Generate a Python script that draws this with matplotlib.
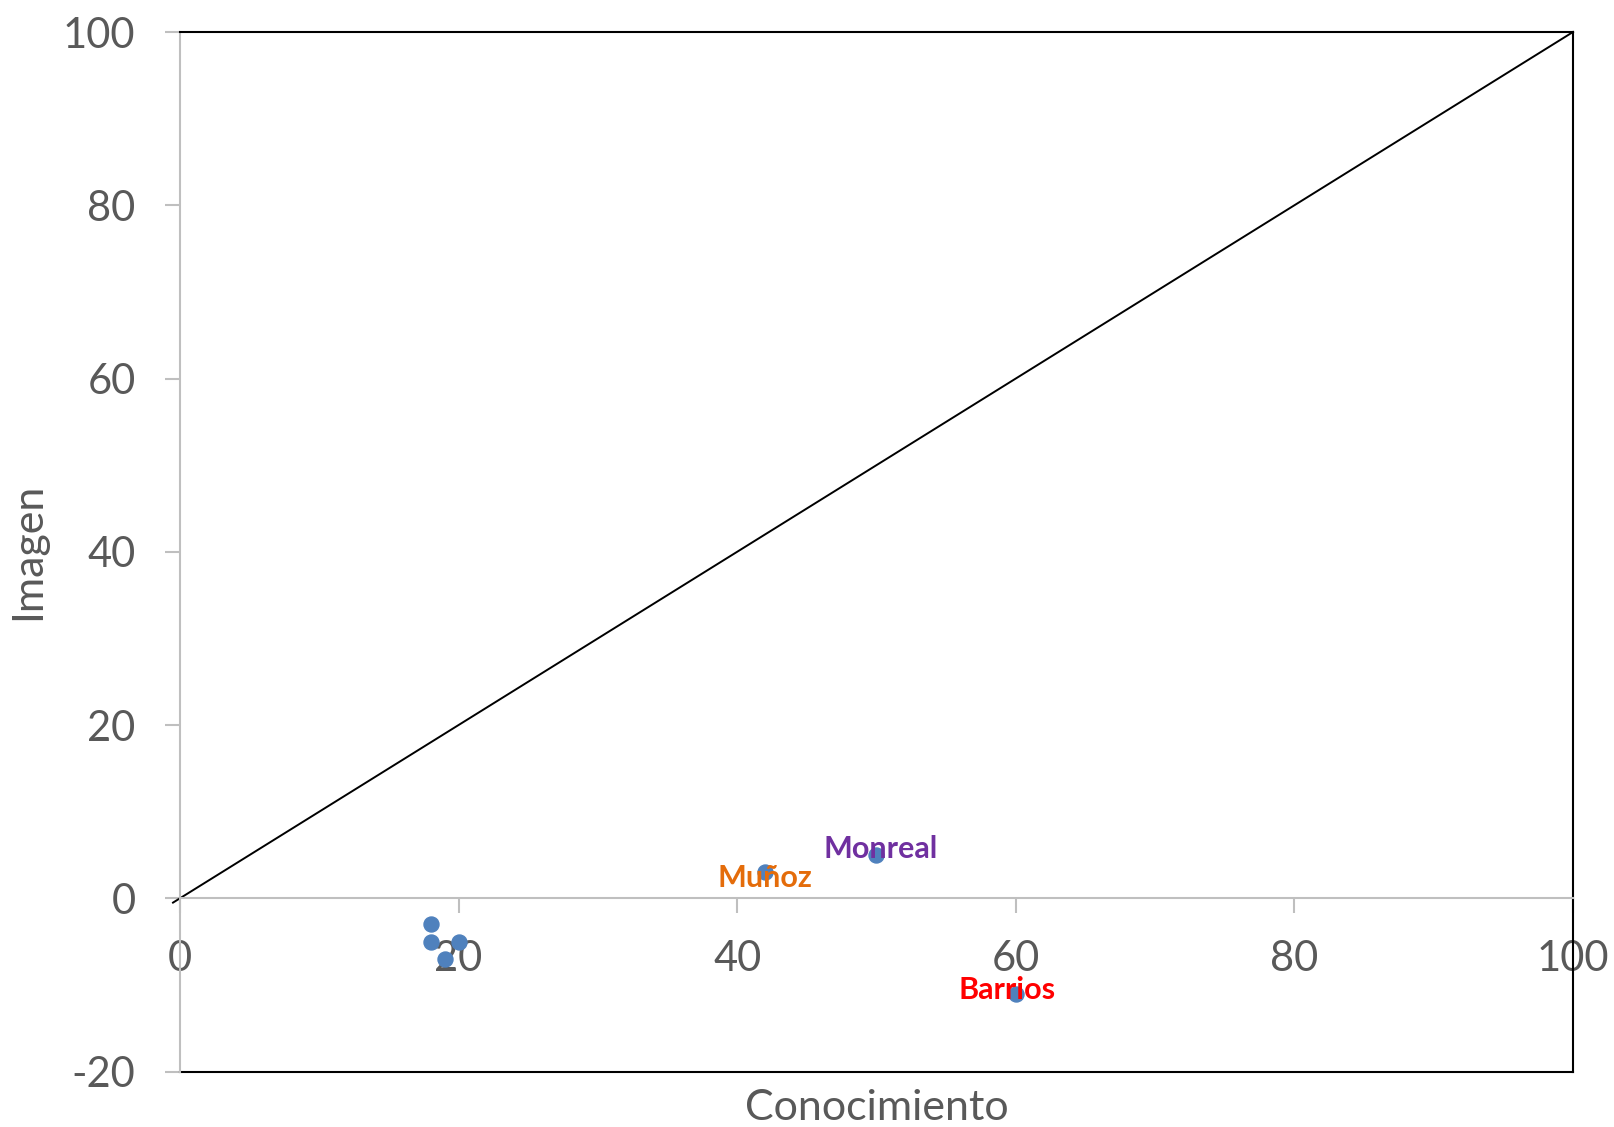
import matplotlib
matplotlib.use("Agg")
import matplotlib.pyplot as plt

# candidate positions: conocimiento (x) vs imagen (y)
conocimiento = [18, 18, 20, 19, 42, 50, 60]
imagen = [-3, -5, -5, -7, 3, 5, -11]

# labelled candidates
nombres = ["Muñoz", "Monreal", "Barrios"]
nombre_x = [42, 50, 60]
nombre_y = [3, 5, -11]
nombre_color = ["#E46C0A", "#7030A0", "#FF0000"]

x_ticks = [0, 20, 40, 60, 80, 100]
y_ticks = [-20, 0, 20, 40, 60, 80, 100]

plt.rcParams['font.family'] = ['Lato', 'DejaVu Sans']
plt.rcParams['axes.unicode_minus'] = False

fig = plt.figure(figsize=(16.14, 11.27), dpi=100)
ax = fig.add_axes([0.1115, 0.0492, 0.8631, 0.9224])

ax.set_xlim(0, 100)
ax.set_ylim(-20, 100)

# diagonal reference line
ax.plot([-0.5, 100], [-0.5, 100], color="black", linewidth=1.4, clip_on=False, zorder=2)

ax.plot(conocimiento, imagen, "o", color="#4F81BD", markersize=10.8, zorder=3)

# data labels, placed like excel does
offsets = [(0, -0.7), (0.3, 0.7), (-0.6, 0.4)]
for n, x, y, c, (dx, dy) in zip(nombres, nombre_x, nombre_y, nombre_color, offsets):
    ax.text(x + dx, y + dy, n, color=c, fontsize=22, fontweight="bold",
            ha="center", va="center", zorder=4)

# axes: gray axis lines, black plot-area border
gray = "#BFBFBF"
ax.spines['left'].set_color(gray)
ax.spines['left'].set_linewidth(1.5)
ax.spines['bottom'].set_position(('data', 0))
ax.spines['bottom'].set_color(gray)
ax.spines['bottom'].set_linewidth(1.5)
ax.spines['top'].set_color("black")
ax.spines['top'].set_linewidth(1.5)
ax.spines['right'].set_color("black")
ax.spines['right'].set_linewidth(1.5)
ax.axhline(-20, color="black", linewidth=1.5, clip_on=False)

ax.set_xticks(x_ticks)
ax.set_yticks(y_ticks)
ax.tick_params(axis="both", direction="out", length=11, width=1.5, color=gray,
               labelsize=30, labelcolor="#595959")
ax.tick_params(axis="x", pad=19)
ax.tick_params(axis="y", pad=21)

fig.text(0.0174, 0.511, "Imagen", rotation=90, fontsize=31, color="#595959",
         ha="center", va="center")
fig.text(0.543, 0.0168, "Conocimiento", fontsize=31, color="#595959",
         ha="center", va="center")

fig.savefig("out.png", dpi=100)
